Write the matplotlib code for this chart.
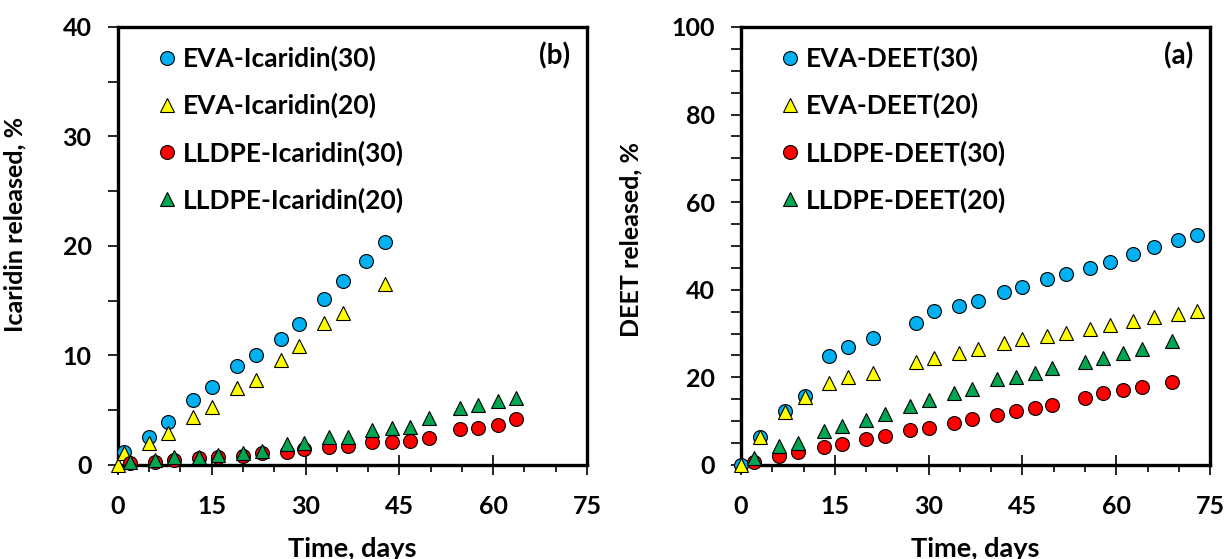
import matplotlib
matplotlib.use("Agg")
import matplotlib.pyplot as plt
from matplotlib.ticker import MultipleLocator

plt.rcParams['font.family'] = ['Lato', 'DejaVu Sans']
plt.rcParams['font.weight'] = 'bold'
plt.rcParams['font.size'] = 18

# ---- Icaridin release (panel b) ----
ica_eva30_t = [1, 5, 8, 12, 15, 19, 22, 26, 29, 33, 36, 39.6, 42.7]
ica_eva30_y = [1.2, 2.6, 3.95, 5.9, 7.1, 9.0, 10.0, 11.5, 12.9, 15.2, 16.8, 18.6, 20.4]

ica_eva20_t = [0, 1, 5, 8, 12, 15, 19, 22, 26, 29, 33, 36, 42.7]
ica_eva20_y = [0, 1.07, 2.0, 2.95, 4.4, 5.3, 7.0, 7.8, 9.6, 10.9, 13.0, 13.9, 16.5]

ica_ll30_t = [2, 6, 9, 13, 16, 20, 23, 27, 29.7, 33.8, 36.8, 40.7, 43.8, 46.7, 49.8,
              54.7, 57.6, 60.7, 63.6]
ica_ll30_y = [0.2, 0.3, 0.45, 0.6, 0.7, 0.85, 1.07, 1.2, 1.5, 1.67, 1.77, 2.07, 2.1, 2.2, 2.5,
              3.25, 3.4, 3.65, 4.17]

ica_ll20_t = ica_ll30_t
ica_ll20_y = [0.3, 0.5, 0.7, 0.7, 0.9, 1.1, 1.3, 1.9, 2.0, 2.6, 2.6, 3.2, 3.4, 3.5, 4.25,
              5.2, 5.5, 5.8, 6.15]

# ---- DEET release (panel a) ----
deet_eva30_t = [0, 3, 7, 10.2, 14.1, 17.1, 21.1, 28, 30.9, 34.9, 37.9, 42.1, 45, 49, 51.9,
                55.8, 59, 62.7, 66, 69.9, 72.9]
deet_eva30_y = [0, 6.3, 12.4, 15.75, 24.9, 27.0, 28.9, 32.5, 35.2, 36.3, 37.5, 39.4, 40.7, 42.4, 43.6,
                44.9, 46.4, 48.2, 49.7, 51.4, 52.5]

deet_eva20_t = deet_eva30_t
deet_eva20_y = [0, 6.5, 12.2, 15.6, 18.8, 20.2, 21.1, 23.6, 24.5, 25.6, 26.5, 27.8, 28.8, 29.4, 30.1,
                31.1, 32.0, 32.9, 33.9, 34.4, 35.2]

deet_ll30_t = [2.1, 6.1, 9.1, 13.2, 16.1, 20, 23, 27.1, 30, 34.1, 36.9, 40.9, 44, 47, 49.8,
               55, 57.9, 61, 64.1, 68.9]
deet_ll30_y = [0.76, 2.05, 2.9, 4.2, 4.7, 5.9, 6.6, 8.0, 8.5, 9.5, 10.4, 11.4, 12.4, 12.9, 13.7,
               15.2, 16.5, 17.1, 17.7, 19.0]

deet_ll20_t = deet_ll30_t
deet_ll20_y = [1.5, 4.3, 5.1, 7.8, 8.9, 10.3, 11.6, 13.5, 14.8, 16.4, 17.3, 19.6, 20.2, 21.1, 22.1,
               23.4, 24.4, 25.5, 26.4, 28.2]

BLUE, YELLOW, RED, GREEN = '#00B0F0', '#FFFF00', '#FF0000', '#00A651'


def style_axis(ax, ymax, ymajor, ylabel, tag):
    ax.set_xlim(0, 75)
    ax.set_ylim(0, ymax)
    ax.xaxis.set_major_locator(MultipleLocator(15))
    ax.xaxis.set_minor_locator(MultipleLocator(5))
    ax.yaxis.set_major_locator(MultipleLocator(ymajor))
    ax.yaxis.set_minor_locator(MultipleLocator(5))
    ax.tick_params(axis='x', which='major', direction='inout', length=14, width=1.2, pad=14.5,
                   labelsize=18)
    ax.tick_params(axis='x', which='minor', direction='out', length=5, width=1.2)
    ax.tick_params(axis='y', which='both', direction='out', length=7, width=1.2, pad=12,
                   labelsize=18)
    for s in ax.spines.values():
        s.set_linewidth(2.4)
    ax.set_xlabel('Time, days', fontsize=19.5, fontweight='bold')
    ax.set_ylabel(ylabel, fontsize=18, fontweight='bold')
    ax.xaxis.set_label_coords(0.5, -0.165)
    ax.text(0.965, 0.935, tag, transform=ax.transAxes, ha='right', va='center',
            fontsize=20, fontweight='bold')


def plot_set(ax, series, labels):
    markers = ['o', '^', 'o', '^']
    colors = [BLUE, YELLOW, RED, GREEN]
    for (t, y), lab, m, c in zip(series, labels, markers, colors):
        ax.plot(t, y, linestyle='none', marker=m, markersize=10, markerfacecolor=c,
                markeredgecolor='black', markeredgewidth=0.8, label=lab, clip_on=False, zorder=3)
    ax.legend(loc='upper left', bbox_to_anchor=(0.083, 0.957), frameon=False, fontsize=19,
              handlelength=0.8, handletextpad=0.2, labelspacing=0.83, borderpad=0,
              borderaxespad=0)


fig = plt.figure(figsize=(12.26, 5.59), dpi=100)
ax1 = fig.add_axes([0.0962, 0.1682, 0.3826, 0.7835])
ax2 = fig.add_axes([0.6044, 0.1682, 0.3826, 0.7835])

plot_set(ax1, [(ica_eva30_t, ica_eva30_y), (ica_eva20_t, ica_eva20_y),
               (ica_ll30_t, ica_ll30_y), (ica_ll20_t, ica_ll20_y)],
         ['EVA-Icaridin(30)', 'EVA-Icaridin(20)', 'LLDPE-Icaridin(30)', 'LLDPE-Icaridin(20)'])
style_axis(ax1, 40, 10, 'Icaridin released, %', '(b)')
ax1.yaxis.set_label_coords(-0.195, 0.55)

plot_set(ax2, [(deet_eva30_t, deet_eva30_y), (deet_eva20_t, deet_eva20_y),
               (deet_ll30_t, deet_ll30_y), (deet_ll20_t, deet_ll20_y)],
         ['EVA-DEET(30)', 'EVA-DEET(20)', 'LLDPE-DEET(30)', 'LLDPE-DEET(20)'])
style_axis(ax2, 100, 20, 'DEET released, %', '(a)')
ax2.yaxis.set_label_coords(-0.21, 0.515)

fig.savefig('out.png', dpi=100)
